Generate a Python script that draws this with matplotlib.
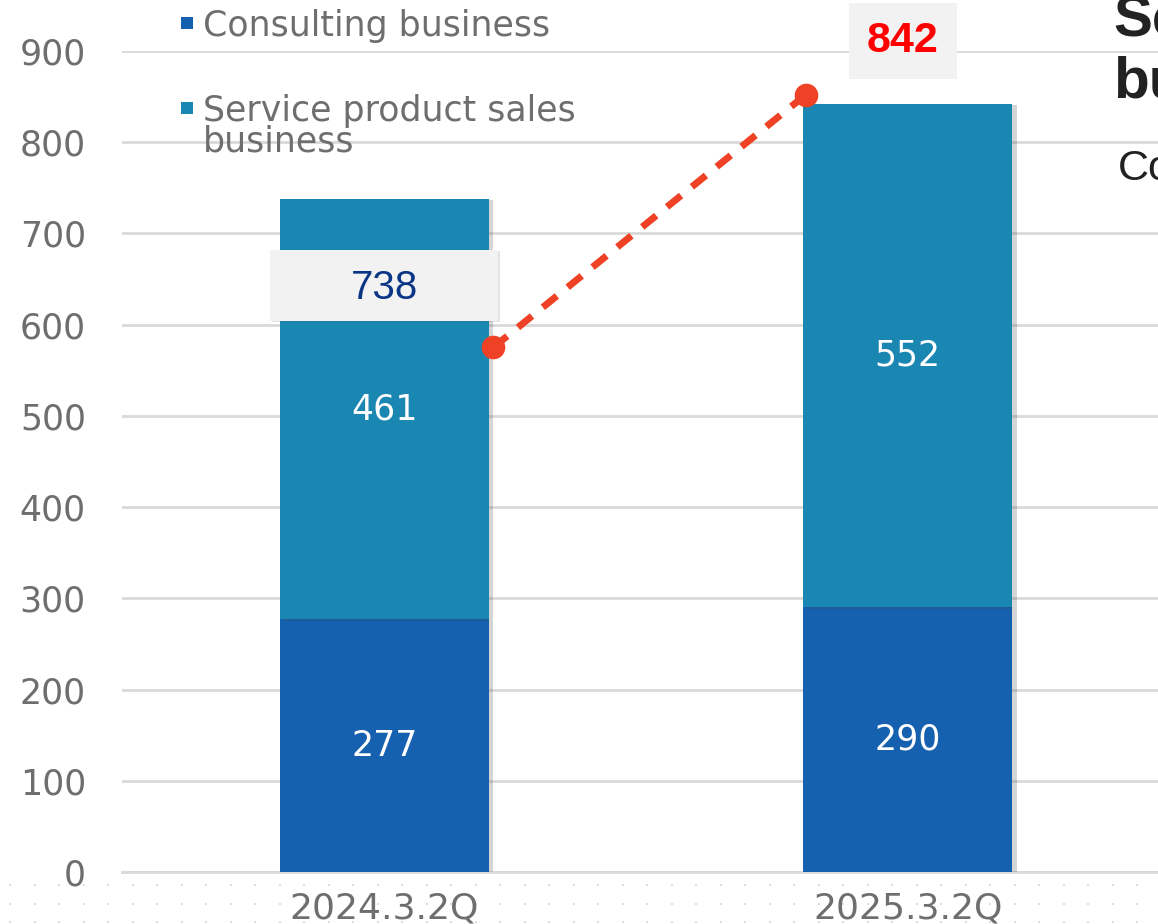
import numpy as np
import matplotlib
matplotlib.use("Agg")
import matplotlib.pyplot as plt
import matplotlib.patheffects as pe
from matplotlib.patches import Rectangle

plt.rcParams['font.family'] = ['DejaVu Sans']

# data
periods = ["2024.3.2Q", "2025.3.2Q"]
series_names = ["Consulting business", "Service product sales\nbusiness"]
consulting = [277, 290]
service = [461, 552]
totals = [738, 842]
trend_y = [575, 852]          # decorative trend arrow end heights
yticks = list(range(0, 1000, 100))

c_consult = "#1660B0"
c_service = "#1A86B2"
c_grid = "#D9D9D9"
c_tick = "#6E6E6E"
c_red = "#EE4125"

W, H = 1158, 924
fig = plt.figure(figsize=(W / 100, H / 100), dpi=100)
ax = fig.add_axes([122 / W, (H - 872) / H, (W - 122) / W, (872 - 51) / H])

x = np.arange(len(periods))
bw = 0.4
shadow = [pe.SimplePatchShadow(offset=(3, -1), alpha=0.22, shadow_rgbFace="#444444"), pe.Normal()]
b1 = ax.bar(x, consulting, bw, color=c_consult, zorder=3, path_effects=shadow)
b2 = ax.bar(x, service, bw, bottom=consulting, color=c_service, zorder=3, path_effects=shadow)

# segment labels
for xi, c, s in zip(x, consulting, service):
    ax.text(xi, c / 2, str(c), ha="center", va="center", color="white", fontsize=25, zorder=5)
    ax.text(xi, c + s / 2, str(s), ha="center", va="center", color="white", fontsize=25, zorder=5)

# total labels
ax.add_patch(Rectangle((x[0] - 0.218, totals[0] - 134), 0.436, 78, facecolor="#F2F2F2",
                       edgecolor="none", zorder=4,
                       path_effects=[pe.SimplePatchShadow(offset=(1, -1), alpha=0.15), pe.Normal()]))
ax.text(x[0], totals[0] - 98, str(totals[0]), ha="center", va="center", color="#0B3585",
        fontsize=29, family="Liberation Sans", zorder=5)
ax.text(x[1] - 0.01, totals[1] + 69, str(totals[1]), ha="center", va="center", color="#FF0000",
        fontsize=31, fontweight="bold", family="Liberation Sans", zorder=5, clip_on=False,
        bbox=dict(boxstyle="square,pad=0.42", facecolor="#F2F2F2", edgecolor="none"))

# trend arrow
ax.plot([x[0] + bw / 2 + 0.008, x[1] - bw / 2 + 0.005], trend_y, color=c_red, lw=5,
        dashes=(2.6, 2.0), marker="o", markersize=16, zorder=6, clip_on=False)

ax.set_xlim(-0.501, 1.478)
ax.set_ylim(0, 900)
ax.set_yticks(yticks)
ax.set_xticks(x)
ax.set_xticklabels(periods)
ax.grid(axis="y", color=c_grid, lw=2, zorder=0)
ax.set_axisbelow(True)
for s in ["top", "right", "left"]:
    ax.spines[s].set_visible(False)
ax.spines["bottom"].set_color(c_grid)
ax.spines["bottom"].set_linewidth(2)
ax.tick_params(axis="y", length=0, pad=26, labelsize=25, labelcolor=c_tick)
ax.tick_params(axis="x", length=0, pad=14, labelsize=26, labelcolor=c_tick)

# legend
for i, (name, col) in enumerate(zip(series_names, [c_consult, c_service])):
    ytop = [17, 102][i]
    fig.patches.append(Rectangle((181 / W, 1 - (ytop + 12) / H), 12 / W, 12 / H,
                                 transform=fig.transFigure, facecolor=col, edgecolor="none"))
    fig.text(203 / W, 1 - (ytop - 8) / H, name, ha="left", va="top", color=c_tick,
             fontsize=25, linespacing=0.88)

# clipped slide text on the right
fig.text(1113 / W, 1 - 98 / H, "Segment\nbusiness", ha="left", va="baseline", fontsize=42,
         fontweight="bold", color="#222222", family="Liberation Sans", linespacing=1.2)
fig.text(1118 / W, 1 - 180 / H, "Consolidated", ha="left", va="baseline", fontsize=31,
         color="#222222", family="Liberation Sans")

# dotted background strip
gx, gy = np.meshgrid(np.arange(10, W, 24.5), [885, 904, 922])
dots = fig.add_axes([0, 0, 1, 1], zorder=-1)
dots.set_xlim(0, W)
dots.set_ylim(H, 0)
dots.axis("off")
dots.scatter(gx.ravel(), gy.ravel(), s=3, color="#DDDDDD", marker="s", linewidths=0)

fig.savefig("out.png", dpi=100)
